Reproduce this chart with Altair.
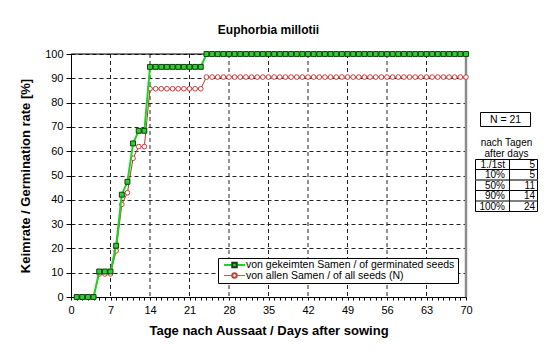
import altair as alt
import pandas as pd

# ---- data ----
days = list(range(1, 71))
germinated = ([0, 0, 0, 0, 10.5, 10.5, 10.5, 21.1, 42.1, 47.4, 63.2, 68.4, 68.4]
              + [94.7] * 10 + [100] * 47)
all_seeds = ([0, 0, 0, 0, 9.5, 9.5, 9.5, 19.0, 38.1, 42.9, 57.1, 61.9, 61.9]
             + [85.7] * 10 + [90.5] * 47)
x_ticks = [0, 7, 14, 21, 28, 35, 42, 49, 56, 63, 70]
y_ticks = [0, 10, 20, 30, 40, 50, 60, 70, 80, 90, 100]
legend_labels = ["von gekeimten Samen / of germinated seeds",
                 "von allen Samen / of all seeds (N)"]
n_label = "N = 21"
table_head = ["nach Tagen", "after days"]
table_rows = ["1./1st", "10%", "50%", "90%", "100%"]
table_vals = [5, 5, 11, 14, 24]

FONT = "Liberation Sans"
W, H = 395, 243
GREEN_LINE = "#1ed41e"
GREEN_FILL = "#33cc33"
GREEN_STROKE = "#0a400a"
RED_LINE = "#a83a3a"
RED_STROKE = "#cc3b3b"

df = pd.DataFrame({"day": days, "germ": germinated, "all": all_seeds})

xscale = alt.Scale(domain=[0, 70], nice=False, zero=False)
yscale = alt.Scale(domain=[0, 100], nice=False)

xaxis = alt.Axis(values=list(range(0, 71)), grid=False, tickSize=3,
                 labelExpr="datum.value % 7 == 0 ? datum.label : ''",
                 labelOverlap=False, labelFlush=False,
                 labelFontSize=11, labelPadding=4, labelFont=FONT,
                 labelColor="black", domainColor="black", tickColor="black",
                 title="Tage nach Aussaat / Days after sowing",
                 titleFont=FONT, titleFontSize=13, titleFontWeight="bold",
                 titlePadding=9, titleColor="black")
yaxis = alt.Axis(values=y_ticks, grid=True, gridDash=[4, 3], gridColor="#222",
                 gridOpacity=1, tickSize=5, labelFontSize=11, labelPadding=3,
                 labelOverlap=False, labelFlush=False,
                 labelFont=FONT, labelColor="black", domainColor="black",
                 tickColor="black", title="Keimrate / Germination rate [%]",
                 titleFont=FONT, titleFontSize=13, titleFontWeight="bold",
                 titlePadding=12, titleColor="black")


def X(field):
    return alt.X(field, scale=xscale, axis=xaxis)


def Y(field):
    return alt.Y(field, scale=yscale, axis=yaxis)


base = alt.Chart(df)

vgrid = alt.Chart(pd.DataFrame({"gx": x_ticks[1:-1]})).mark_rule(
    strokeDash=[4, 3], color="#222", strokeWidth=1
).encode(x=X("gx:Q"))

top_border = alt.Chart(pd.DataFrame({"a": [0]})).mark_rule(color="black").encode(
    x=alt.datum(0, scale=xscale, axis=xaxis), x2=alt.datum(70),
    y=alt.datum(100, scale=yscale, axis=yaxis))
right_border = alt.Chart(pd.DataFrame({"a": [0]})).mark_rule(
    color="#8c8c8c", strokeWidth=2.5).encode(
    x=alt.datum(70, scale=xscale, axis=xaxis),
    y=alt.datum(0, scale=yscale, axis=yaxis), y2=alt.datum(100))

red_line = base.mark_line(color=RED_LINE, strokeWidth=1).encode(
    x=X("day:Q"), y=Y("all:Q"))
red_pts = base.mark_point(shape="circle", size=22, filled=False, fill="white",
                          fillOpacity=1, stroke=RED_STROKE, strokeWidth=1,
                          opacity=1).encode(x=X("day:Q"), y=Y("all:Q"))
green_line = base.mark_line(color=GREEN_LINE, strokeWidth=2).encode(
    x=X("day:Q"), y=Y("germ:Q"))
green_pts = base.mark_point(shape="square", size=24, filled=True,
                            fill=GREEN_FILL, stroke=GREEN_STROKE,
                            strokeWidth=1, opacity=1).encode(
    x=X("day:Q"), y=Y("germ:Q"))


def one(text):
    return alt.Chart(pd.DataFrame({"t": [text]}))


def box(x1, x2, y1, y2, stroke="black", sw=1):
    return one("").mark_rect(fill="white", stroke=stroke, strokeWidth=sw).encode(
        x=alt.value(x1), x2=alt.value(x2), y=alt.value(y1), y2=alt.value(y2))


def seg(x1, x2, y1, y2, color="black", sw=1):
    return one("").mark_rule(color=color, strokeWidth=sw).encode(
        x=alt.value(x1), x2=alt.value(x2), y=alt.value(y1), y2=alt.value(y2))


def txt(text, x, y, align="left", size=11):
    return one(text).mark_text(align=align, baseline="middle", font=FONT,
                               fontSize=size, color="black").encode(
        text="t:N", x=alt.value(x), y=alt.value(y))


ann = []
# legend
ann.append(box(147.5, 387.5, 204.5, 229.5))
ann.append(seg(153, 174, 211, 211, GREEN_LINE, 2))
ann.append(one("").mark_point(shape="square", size=20, filled=True,
                              fill=GREEN_FILL, stroke=GREEN_STROKE, opacity=1)
           .encode(x=alt.value(163.5), y=alt.value(211)))
ann.append(txt(legend_labels[0], 175, 211, size=10.5))
ann.append(seg(153, 174, 221.5, 221.5, "#cc5555", 1))
ann.append(one("").mark_point(shape="circle", size=20, fill="white",
                              fillOpacity=1, stroke=RED_STROKE, opacity=1)
           .encode(x=alt.value(163.5), y=alt.value(221.5)))
ann.append(txt(legend_labels[1], 175, 221.5, size=10.5))

# N box
ann.append(box(409.5, 459.5, 58.5, 72.5))
ann.append(txt(n_label, 434.5, 65.5, "center", 10.5))
ann.append(txt(table_head[0], 435.5, 89, "center", 10))
ann.append(txt(table_head[1], 435.5, 100, "center", 10))

# table
row_edges = [105.5, 115.5, 126, 136.5, 147, 157.5]
ann.append(box(404.5, 466.5, row_edges[0], row_edges[-1]))
for i, e in enumerate(row_edges[1:-1]):
    ann.append(seg(404.5, 466.5, e, e, "#777" if i == 1 else "black",
                   2 if i == 1 else 1))
ann.append(seg(438.5, 438.5, row_edges[0], row_edges[-1]))
for i, (lab, v) in enumerate(zip(table_rows, table_vals)):
    cy = (row_edges[i] + row_edges[i + 1]) / 2 + 0.5
    ann.append(txt(lab, 434, cy, "right", 10))
    ann.append(txt(str(v), 464, cy, "right", 10))

chart = alt.layer(vgrid, top_border, right_border,
                  red_line, red_pts, green_line, green_pts, *ann).properties(
    width=W, height=H,
    title=alt.TitleParams("Euphorbia millotii", font=FONT, fontSize=12,
                          fontWeight="bold", color="black", offset=11,
                          anchor="middle"),
    padding={"left": 63, "top": 46, "right": 86, "bottom": 55},
    autosize=alt.AutoSizeParams(type="none"),
).configure_view(stroke=None).configure(background="white")

chart.save("out.html", embed_options={"renderer": "svg", "actions": False})
